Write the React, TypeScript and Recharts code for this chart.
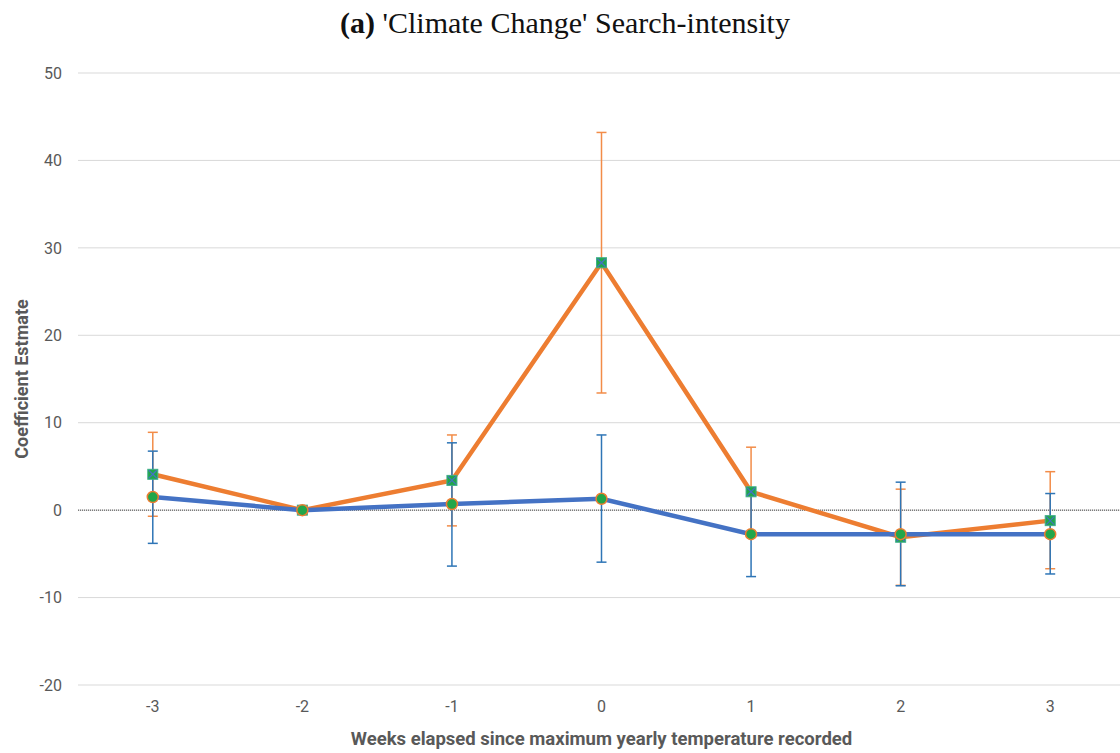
import React from 'react';
import {
  LineChart,
  Line,
  XAxis,
  YAxis,
  CartesianGrid,
  ReferenceLine,
  ErrorBar,
} from 'recharts';

const weeks = [-3, -2, -1, 0, 1, 2, 3];

// orange series (square markers)
const orangeEst = [4.1, 0, 3.4, 28.3, 2.1, -3.1, -1.2];
const orangeLow = [-0.7, 0, -1.8, 13.4, -3.0, -8.6, -6.7];
const orangeHigh = [8.9, 0, 8.6, 43.2, 7.2, 2.4, 4.4];

// blue series (circle markers)
const blueEst = [1.5, 0, 0.7, 1.3, -2.75, -2.75, -2.75];
const blueLow = [-3.8, 0, -6.4, -5.95, -7.6, -8.65, -7.3];
const blueHigh = [6.75, 0, 7.7, 8.6, 2.1, 3.2, 1.9];

const yTicks = [-20, -10, 0, 10, 20, 30, 40, 50];

const data = weeks.map((w, i) => ({
  week: w,
  orange: orangeEst[i],
  orangeErr: [orangeEst[i] - orangeLow[i], orangeHigh[i] - orangeEst[i]],
  blue: blueEst[i],
  blueErr: [blueEst[i] - blueLow[i], blueHigh[i] - blueEst[i]],
}));

const GREEN = '#21A64A';
const AXIS_TEXT = '#595959';
const FONT = 'Roboto, "Open Sans", sans-serif';

const SquareDot = (props: any) => {
  const { cx, cy } = props;
  if (cx == null || cy == null) return null;
  const s = 5;
  return (
    <g>
      <rect x={cx - s} y={cy - s} width={s * 2} height={s * 2} fill={GREEN} stroke="#3FAF8A" strokeWidth={1} />
      <line x1={cx - s + 1} y1={cy - s + 1} x2={cx + s - 1} y2={cy + s - 1} stroke="#4472C4" strokeWidth={1.2} />
      <line x1={cx - s + 1} y1={cy + s - 1} x2={cx + s - 1} y2={cy - s + 1} stroke="#4472C4" strokeWidth={1.2} />
    </g>
  );
};

const CircleDot = (props: any) => {
  const { cx, cy } = props;
  if (cx == null || cy == null) return null;
  return <circle cx={cx} cy={cy} r={5.5} fill={GREEN} stroke="#ED7D31" strokeWidth={1.5} />;
};

const YLabel = (props: any) => {
  const vb = props.viewBox || {};
  const cy = vb.y + vb.height / 2;
  return (
    <text
      x={21}
      y={cy}
      transform={`rotate(-90, 21, ${cy})`}
      textAnchor="middle"
      dominantBaseline="central"
      fill={AXIS_TEXT}
      fontFamily={FONT}
      fontWeight="bold"
      fontSize={18}
    >
      Coefficient Estmate
    </text>
  );
};

export default function App() {
  return (
    <div
      style={{
        position: 'absolute',
        left: 0,
        top: 0,
        width: 1120,
        height: 753,
        overflow: 'hidden',
        background: '#fff',
      }}
    >
      <div
        style={{
          position: 'absolute',
          top: 6,
          left: 0,
          width: 1130,
          textAlign: 'center',
          fontFamily: '"Liberation Serif", serif',
          fontSize: 30,
          color: '#111',
        }}
      >
        <b>(a)</b> 'Climate Change' Search-intensity
      </div>
      <LineChart
        width={1125}
        height={753}
        data={data}
        margin={{ top: 73, right: 0, bottom: 8, left: 0 }}
      >
        <CartesianGrid vertical={false} stroke="#D9D9D9" strokeWidth={1} />
        <XAxis
          dataKey="week"
          type="number"
          domain={[-3.5, 3.5]}
          ticks={weeks}
          height={60}
          axisLine={false}
          tickLine={false}
          tickSize={0}
          tickMargin={16}
          tick={{ fill: AXIS_TEXT, fontSize: 16, fontFamily: FONT }}
          label={{
            value: 'Weeks elapsed since maximum yearly temperature recorded',
            position: 'insideBottom',
            offset: 0,
            fill: AXIS_TEXT,
            fontSize: 18.5,
            fontWeight: 'bold',
            fontFamily: FONT,
          }}
        />
        <YAxis
          domain={[-20, 50]}
          ticks={yTicks}
          width={78}
          axisLine={false}
          tickLine={false}
          tickSize={0}
          tickMargin={16}
          tick={{ fill: AXIS_TEXT, fontSize: 16, fontFamily: FONT }}
          label={<YLabel />}
        />
        <ReferenceLine y={0} stroke="#444" strokeWidth={1} strokeDasharray="1 1" />
        <Line
          dataKey="orange"
          stroke="#ED7D31"
          strokeWidth={4.5}
          dot={<SquareDot />}
          activeDot={false}
          isAnimationActive={false}
        >
          <ErrorBar dataKey="orangeErr" direction="y" width={5} stroke="#F28C48" strokeWidth={1.5} />
        </Line>
        <Line
          dataKey="blue"
          stroke="#4472C4"
          strokeWidth={4.5}
          dot={<CircleDot />}
          activeDot={false}
          isAnimationActive={false}
        >
          <ErrorBar dataKey="blueErr" direction="y" width={5} stroke="#2E75B6" strokeWidth={1.5} />
        </Line>
      </LineChart>
    </div>
  );
}
